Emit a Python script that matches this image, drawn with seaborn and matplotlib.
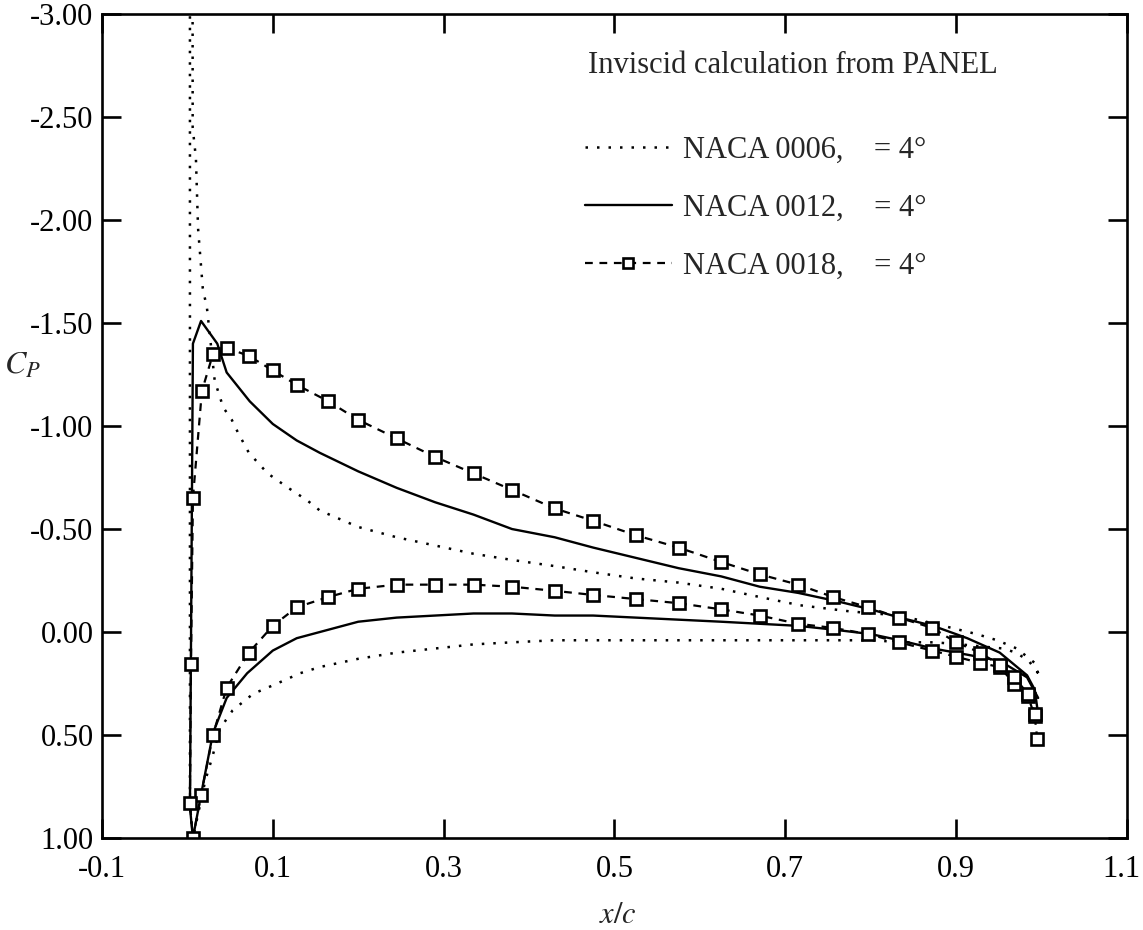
import numpy as np
import pandas as pd
import matplotlib
matplotlib.use("Agg")
import matplotlib.pyplot as plt
from matplotlib.ticker import FuncFormatter, FixedLocator
from matplotlib.transforms import ScaledTranslation
import seaborn as sns

# ---- pressure distributions, ordered lower TE -> LE -> upper TE ----
# NACA 0006
lower_x_0006 = [0.996, 0.985, 0.97, 0.955, 0.93, 0.905, 0.875, 0.84, 0.80, 0.76, 0.715, 0.67,
                0.625, 0.575, 0.525, 0.475, 0.43, 0.38, 0.335, 0.29, 0.245, 0.20, 0.155, 0.132,
                0.105, 0.077, 0.053, 0.038, 0.029, 0.021, 0.0065]
lower_cp_0006 = [0.20, 0.14, 0.10, 0.08, 0.07, 0.06, 0.05, 0.05, 0.04, 0.04, 0.04, 0.04,
                 0.04, 0.04, 0.04, 0.04, 0.04, 0.05, 0.06, 0.08, 0.10, 0.13, 0.17, 0.20,
                 0.25, 0.30, 0.38, 0.47, 0.61, 0.72, 1.00]
upper_x_0006 = [0.003, 0.003, 0.006, 0.0062, 0.010, 0.0125, 0.018, 0.023, 0.032, 0.042, 0.052,
                0.059, 0.072, 0.094, 0.118, 0.14, 0.155, 0.20, 0.245, 0.29, 0.335, 0.38, 0.43,
                0.475, 0.525, 0.575, 0.625, 0.67, 0.717, 0.776, 0.834, 0.885, 0.924, 0.948,
                0.971, 0.983, 0.992, 0.996]
upper_cp_0006 = [0.85, -3.80, -3.80, -2.45, -2.30, -1.96, -1.67, -1.57, -1.22, -1.09, -1.03,
                 -0.97, -0.87, -0.77, -0.70, -0.64, -0.59, -0.51, -0.46, -0.42, -0.38, -0.35, -0.32,
                 -0.29, -0.26, -0.24, -0.21, -0.17, -0.13, -0.10, -0.08, -0.03, 0.01, 0.04,
                 0.08, 0.12, 0.15, 0.20]

# NACA 0012
lower_x_0012 = [0.996, 0.983, 0.951, 0.913, 0.873, 0.834, 0.80, 0.76, 0.715, 0.67, 0.625, 0.575,
                0.525, 0.475, 0.43, 0.38, 0.335, 0.29, 0.245, 0.20, 0.155, 0.128, 0.10, 0.07,
                0.046, 0.030, 0.016, 0.0065]
lower_cp_0012 = [0.32, 0.22, 0.14, 0.11, 0.08, 0.04, 0.01, -0.01, -0.03, -0.04, -0.05, -0.06,
                 -0.07, -0.08, -0.08, -0.09, -0.09, -0.08, -0.07, -0.05, 0.00, 0.03, 0.09, 0.20,
                 0.32, 0.49, 0.79, 1.00]
upper_x_0012 = [0.003, 0.0065, 0.016, 0.035, 0.046, 0.073, 0.10, 0.128, 0.155, 0.20, 0.245, 0.29,
                0.335, 0.38, 0.43, 0.475, 0.525, 0.575, 0.625, 0.67, 0.715, 0.76, 0.80, 0.834,
                0.873, 0.913, 0.951, 0.983, 0.992, 0.996]
upper_cp_0012 = [0.85, -1.40, -1.51, -1.40, -1.26, -1.12, -1.01, -0.93, -0.87, -0.78, -0.70, -0.63,
                 -0.57, -0.50, -0.46, -0.41, -0.36, -0.31, -0.27, -0.22, -0.19, -0.15, -0.11, -0.07,
                 -0.03, 0.03, 0.10, 0.21, 0.28, 0.40]

# NACA 0018
lower_x_0018 = [0.995, 0.992, 0.984, 0.968, 0.951, 0.928, 0.90, 0.872, 0.833, 0.797, 0.756, 0.715,
                0.67, 0.625, 0.575, 0.525, 0.475, 0.43, 0.38, 0.335, 0.29, 0.245, 0.20, 0.165,
                0.128, 0.10, 0.072, 0.046, 0.030, 0.016, 0.0065]
lower_cp_0018 = [0.52, 0.41, 0.31, 0.25, 0.17, 0.15, 0.12, 0.09, 0.05, 0.01, -0.02, -0.04,
                 -0.08, -0.11, -0.14, -0.16, -0.18, -0.20, -0.22, -0.23, -0.23, -0.23, -0.21, -0.17,
                 -0.12, -0.03, 0.10, 0.27, 0.50, 0.79, 1.00]
upper_x_0018 = [0.003, 0.0042, 0.0065, 0.017, 0.030, 0.046, 0.072, 0.100, 0.128, 0.165, 0.20, 0.245,
                0.29, 0.335, 0.38, 0.43, 0.475, 0.525, 0.575, 0.625, 0.67, 0.715, 0.756, 0.797,
                0.833, 0.872, 0.90, 0.928, 0.951, 0.968, 0.984, 0.992]
upper_cp_0018 = [0.83, 0.155, -0.65, -1.17, -1.35, -1.38, -1.34, -1.27, -1.20, -1.12, -1.03, -0.94,
                 -0.85, -0.77, -0.69, -0.60, -0.54, -0.47, -0.41, -0.34, -0.28, -0.23, -0.17, -0.12,
                 -0.07, -0.02, 0.05, 0.10, 0.16, 0.22, 0.30, 0.40]

series_labels = ["NACA 0006,    = 4°", "NACA 0012,    = 4°", "NACA 0018,    = 4°"]
legend_title = "Inviscid calculation from PANEL"

x_ticks = [-0.1, 0.1, 0.3, 0.5, 0.7, 0.9, 1.1]
y_ticks = [-3.0, -2.5, -2.0, -1.5, -1.0, -0.5, 0.0, 0.5, 1.0]


def surface_frame(lx, lcp, ux, ucp):
    return pd.DataFrame({"x": list(lx) + list(ux), "cp": list(lcp) + list(ucp)})


frames = [
    surface_frame(lower_x_0006, lower_cp_0006, upper_x_0006, upper_cp_0006),
    surface_frame(lower_x_0012, lower_cp_0012, upper_x_0012, upper_cp_0012),
    surface_frame(lower_x_0018, lower_cp_0018, upper_x_0018, upper_cp_0018),
]

sns.set_style("ticks")
plt.rcParams["font.family"] = ["Liberation Serif", "DejaVu Serif"]
plt.rcParams["mathtext.fontset"] = "stix"

FS = 22

fig = plt.figure(figsize=(11.43, 9.3), dpi=100)
ax = fig.add_axes([0.0892, 0.0989, 0.8968, 0.886])

styles = [
    dict(linestyle=(0, (1.0, 3.6)), linewidth=1.8, color="black"),
    dict(linestyle="-", linewidth=1.7, color="black"),
    dict(linestyle=(0, (3.5, 3.0)), linewidth=1.6, color="black", marker="s",
         markersize=9, markerfacecolor="white", markeredgecolor="black", markeredgewidth=1.9),
]

for df, lab, st in zip(frames, series_labels, styles):
    sns.lineplot(data=df, x="x", y="cp", sort=False, estimator=None, ax=ax, label=lab, **st)

ax.set_xlim(-0.1, 1.1)
ax.set_ylim(1.0, -3.0)
ax.xaxis.set_major_locator(FixedLocator(x_ticks))
ax.yaxis.set_major_locator(FixedLocator(y_ticks))
ax.xaxis.set_major_formatter(FuncFormatter(lambda v, p: f"{v:.1f}"))
ax.yaxis.set_major_formatter(FuncFormatter(lambda v, p: "0.00" if abs(v) < 1e-9 else f"{v:.2f}"))

for s in ax.spines.values():
    s.set_linewidth(1.9)
    s.set_color("black")
ax.tick_params(axis="both", which="major", direction="in", length=13.5, width=1.9,
               top=True, right=True, labelsize=FS, colors="black")
ax.tick_params(axis="x", pad=12)
ax.tick_params(axis="y", pad=6)

ax.set_xlabel("")
ax.set_ylabel("")
fig.text(0.541, 0.016, r"$x/c$", fontsize=FS, ha="center", va="center")
fig.text(0.020, 0.606, r"$C_P$", fontsize=FS + 1, ha="center", va="center")

ax.text(0.474, 0.938, legend_title, transform=ax.transAxes, fontsize=FS,
        ha="left", va="center")
leg = ax.legend(loc="upper left", bbox_to_anchor=(0.471, 0.852), frameon=False,
                fontsize=FS, handlelength=2.85, handletextpad=0.36, labelspacing=0.95,
                borderpad=0, borderaxespad=0, numpoints=1, markerscale=0.8)

# keep the last x tick label inside the figure edge
fig.canvas.draw()
last_tick = ax.xaxis.get_major_ticks()[-1]
last_tick.label1.set_transform(last_tick.label1.get_transform()
                               + ScaledTranslation(-0.06, 0, fig.dpi_scale_trans))

fig.savefig("out.png", dpi=100, facecolor="white")
